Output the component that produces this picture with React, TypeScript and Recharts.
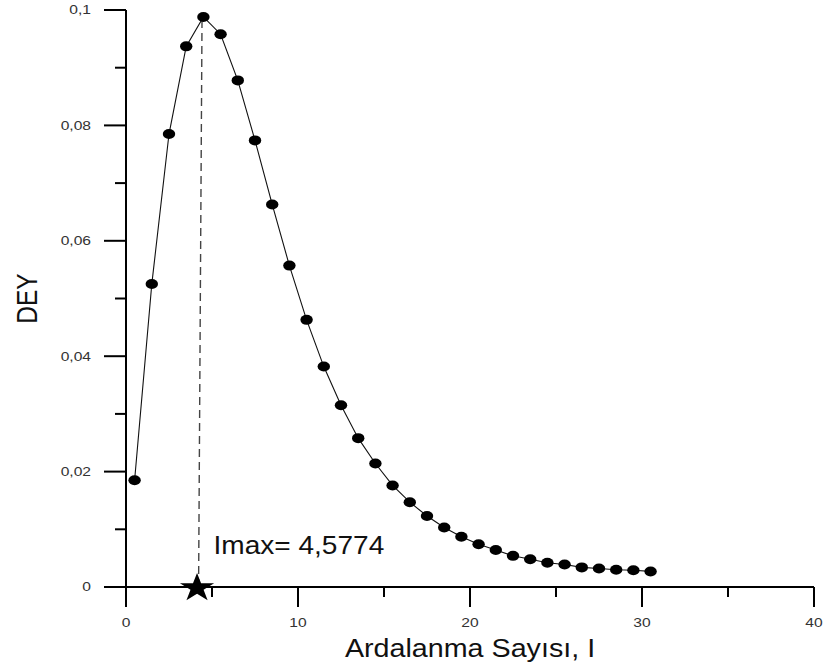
import React from 'react';
import { ComposedChart, Line, XAxis, YAxis, ReferenceLine, ReferenceDot, Label } from 'recharts';

// Ardalanma sayısı (x) and DEY values
const runs = [0.5, 1.5, 2.5, 3.5, 4.5, 5.5, 6.5, 7.5, 8.5, 9.5, 10.5, 11.5, 12.5, 13.5, 14.5, 15.5,
  16.5, 17.5, 18.5, 19.5, 20.5, 21.5, 22.5, 23.5, 24.5, 25.5, 26.5, 27.5, 28.5, 29.5, 30.5];
const dey = [0.0185, 0.0525, 0.0785, 0.0937, 0.0988, 0.0958, 0.0878, 0.0774, 0.0663, 0.0557,
  0.0463, 0.0382, 0.0315, 0.0258, 0.0214, 0.0176, 0.0147, 0.0123, 0.0103, 0.0087,
  0.0074, 0.0064, 0.0054, 0.0048, 0.0042, 0.0039, 0.0034, 0.0032, 0.0030, 0.0029, 0.0027];

const xMajorTicks = [0, 10, 20, 30, 40];
const xMinorTicks = [5, 15, 25, 35];
const yMajorTicks = [0, 0.02, 0.04, 0.06, 0.08, 0.1];
const yMinorTicks = [0.01, 0.03, 0.05, 0.07, 0.09];

const xTitle = 'Ardalanma Sayısı, I';
const yTitle = 'DEY';
const imaxText = 'Imax= 4,5774';
const starX = 4.13;
const dashLine = [{ x: 4.22, y: 0 }, { x: 4.42, y: 0.0985 }];
const imaxTextPos = { x: 5.09, y: 0.0058 };

const data = runs.map((x, i) => ({ x, y: dey[i] }));

const FONT = '"Liberation Sans", Arial, Helvetica, sans-serif';

const isIn = (list: number[], v: number) => list.some((t) => Math.abs(t - v) < 1e-9);
const fmt = (v: number) => String(v).replace('.', ',');

const XTick = (props: any) => {
  const { x, y, payload } = props;
  const v = payload.value;
  const major = isIn(xMajorTicks, v);
  return (
    <g>
      <line x1={x} x2={x} y1={y} y2={y + (major ? 20 : 10)} stroke="#000" strokeWidth={2} />
      {major && (
        <text transform={`translate(${x},${y + 36}) scale(1.3,1)`} textAnchor="middle" dy="0.36em"
          fontSize={12} fontFamily={FONT} fill="#333">{fmt(v)}</text>
      )}
    </g>
  );
};

const YTick = (props: any) => {
  const { x, y, payload } = props;
  const v = payload.value;
  const major = isIn(yMajorTicks, v);
  return (
    <g>
      <line x1={x} x2={x - (major ? 22 : 11)} y1={y} y2={y} stroke="#000" strokeWidth={2} />
      {major && (
        <text transform={`translate(${x - 35},${y}) scale(1.3,1)`} textAnchor="end" dy="0.36em"
          fontSize={12} fontFamily={FONT} fill="#333">{fmt(v)}</text>
      )}
    </g>
  );
};

const XTitle = (props: any) => {
  const vb = props.viewBox;
  return (
    <text transform={`translate(${vb.x + vb.width / 2},${vb.y + 70}) scale(1.125,1)`} textAnchor="middle"
      fontSize={25.5} fontFamily={FONT} fill="#111">{xTitle}</text>
  );
};

const YTitle = (props: any) => {
  const vb = props.viewBox;
  return (
    <text transform={`translate(26,${vb.y + vb.height / 2}) rotate(-90) scale(1,1.2)`} textAnchor="middle"
      dy="0.36em" fontSize={24.5} fontFamily={FONT} fill="#111">{yTitle}</text>
  );
};

const Dot = (props: any) => {
  const { cx, cy, index } = props;
  if (cx == null || cy == null) return <g key={index} />;
  return <ellipse key={index} cx={cx} cy={cy} rx={6.2} ry={5} fill="#000" />;
};

const StarShape = (props: any) => {
  const { cx, cy } = props;
  const R = 15;
  const r = R * 0.382;
  const pts: string[] = [];
  for (let i = 0; i < 10; i++) {
    const rad = i % 2 === 0 ? R : r;
    const a = -Math.PI / 2 + (i * Math.PI) / 5;
    pts.push(`${(rad * Math.cos(a)).toFixed(2)},${(rad * Math.sin(a)).toFixed(2)}`);
  }
  return (
    <polygon transform={`translate(${cx},${cy + 1}) scale(1.2,1)`} points={pts.join(' ')} fill="#000" />
  );
};

const ImaxText = (props: any) => {
  const { cx, cy } = props;
  return (
    <text transform={`translate(${cx},${cy}) scale(1.1,1)`} textAnchor="start" fontSize={25.5}
      fontFamily={FONT} fill="#111">{imaxText}</text>
  );
};

export default function App() {
  return (
    <div style={{ position: 'absolute', left: 0, top: 0, width: 826, height: 670, background: '#fff' }}>
      <ComposedChart width={826} height={670} data={data} margin={{ top: 10, right: 12, bottom: 0, left: 0 }}>
        <XAxis dataKey="x" type="number" domain={[0, 40]} allowDataOverflow
          ticks={[...xMajorTicks, ...xMinorTicks].sort((a, b) => a - b)} interval={0}
          tickSize={0} tickMargin={0} tickLine={false} tick={XTick} height={83}
          axisLine={{ stroke: '#000', strokeWidth: 2 }}>
          <Label content={XTitle} />
        </XAxis>
        <YAxis type="number" domain={[0, 0.1]} allowDataOverflow
          ticks={[...yMajorTicks, ...yMinorTicks].sort((a, b) => a - b)} interval={0}
          tickSize={0} tickMargin={0} tickLine={false} tick={YTick} width={126}
          axisLine={{ stroke: '#000', strokeWidth: 2 }}>
          <Label content={YTitle} />
        </YAxis>
        <ReferenceLine segment={dashLine} stroke="#444" strokeWidth={1.4} strokeDasharray="8 5" />
        <Line type="linear" dataKey="y" stroke="#111" strokeWidth={1.1} dot={Dot} activeDot={false}
          isAnimationActive={false} />
        <ReferenceDot x={starX} y={0} r={0} shape={StarShape} ifOverflow="visible" />
        <ReferenceDot x={imaxTextPos.x} y={imaxTextPos.y} r={0} shape={ImaxText} ifOverflow="visible" />
      </ComposedChart>
    </div>
  );
}
